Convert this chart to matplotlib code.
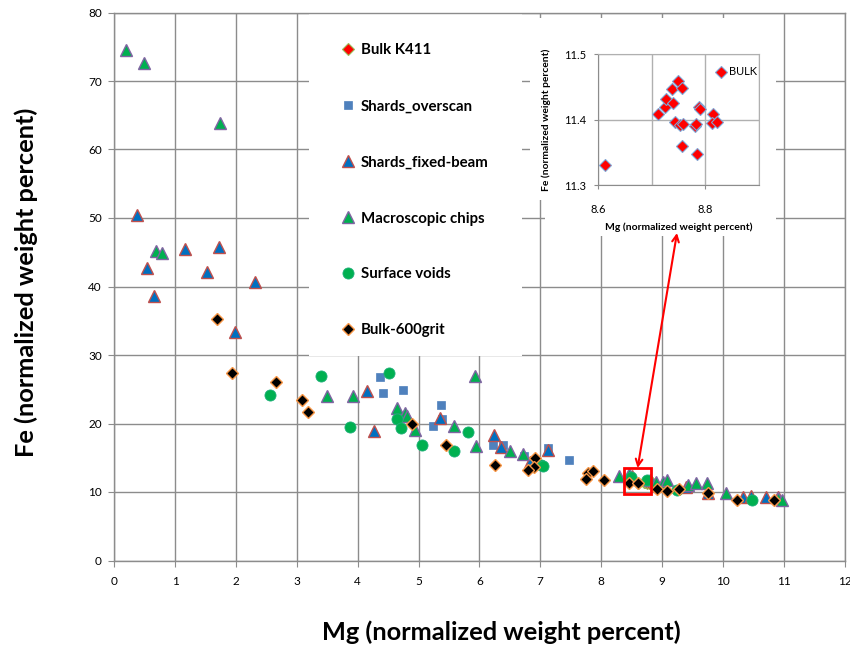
import matplotlib
matplotlib.use("Agg")
import matplotlib.pyplot as plt
from matplotlib.patches import Rectangle

plt.rcParams['font.family'] = ['Lato', 'DejaVu Sans']

# ---------------- data ----------------
mg_k411 = [8.613, 8.711, 8.725, 8.726, 8.737, 8.740, 8.749, 8.756, 8.743, 8.752,
           8.758, 8.756, 8.781, 8.782, 8.788, 8.789, 8.784, 8.814, 8.812, 8.822]
fe_k411 = [11.331, 11.408, 11.420, 11.431, 11.447, 11.425, 11.459, 11.448, 11.397, 11.392,
           11.393, 11.360, 11.390, 11.394, 11.420, 11.417, 11.348, 11.408, 11.395, 11.396]

mg_overscan = [4.36, 4.41, 4.74, 5.37, 5.39, 5.24, 6.23, 6.38, 6.73, 7.12, 7.47]
fe_overscan = [26.8, 24.4, 24.9, 22.7, 20.7, 19.6, 16.8, 16.8, 15.3, 16.4, 14.7]

mg_fixed = [0.37, 1.16, 1.72, 0.53, 1.52, 2.32, 0.66, 1.98, 4.16, 4.26, 5.35, 6.24,
            6.35, 6.83, 7.13, 8.50, 9.40, 9.75, 10.33, 10.46, 10.71, 10.90]
fe_fixed = [50.4, 45.5, 45.8, 42.7, 42.1, 40.7, 38.6, 33.4, 24.7, 18.9, 20.8, 18.3,
            16.6, 14.4, 16.1, 12.3, 10.8, 9.8, 9.3, 9.4, 9.2, 9.2]

mg_chips = [0.20, 0.48, 1.74, 0.68, 0.78, 3.49, 3.92, 4.65, 4.77, 4.81, 4.94, 5.58,
            5.92, 5.94, 6.51, 6.72, 8.30, 8.46, 8.80, 8.90, 9.01, 9.09, 9.42, 9.56,
            9.74, 10.06, 10.91, 10.97]
fe_chips = [74.5, 72.7, 63.9, 45.2, 44.9, 24.0, 24.0, 22.2, 21.5, 21.1, 19.1, 19.7,
            26.9, 16.7, 16.0, 15.5, 12.4, 12.6, 11.8, 11.5, 11.5, 11.8, 11.0, 11.3,
            11.3, 9.8, 9.1, 8.9]

mg_voids = [2.56, 3.40, 3.87, 4.51, 4.65, 4.71, 5.05, 5.58, 5.82, 7.01, 7.04, 8.49,
            8.75, 9.24, 10.48]
fe_voids = [24.2, 27.0, 19.5, 27.3, 20.6, 19.3, 16.8, 16.0, 18.7, 13.9, 13.8, 12.2,
            11.7, 10.3, 8.8]

mg_grit = [1.68, 1.93, 2.66, 3.09, 3.18, 4.90, 5.45, 6.26, 6.92, 6.89, 6.80, 7.79,
           7.87, 7.76, 8.04, 8.46, 8.61, 8.92, 9.09, 9.28, 9.76, 10.23, 10.84]
fe_grit = [35.2, 27.4, 26.1, 23.5, 21.7, 20.0, 16.9, 14.0, 15.0, 13.7, 13.2, 12.8,
           13.1, 11.9, 11.7, 11.3, 11.3, 10.4, 10.2, 10.5, 9.9, 8.9, 8.8]

series_labels = ["Bulk K411", "Shards_overscan", "Shards_fixed-beam",
                 "Macroscopic chips", "Surface voids", "Bulk-600grit"]
x_ticks = list(range(0, 13))
y_ticks = list(range(0, 81, 10))
inset_x_ticks = [8.6, 8.8]
inset_y_ticks = [11.3, 11.4, 11.5]

# ---------------- styles ----------------
W, H = 850, 647
GRID = '#8c8c8c'
styles = [
    dict(marker='D', ms=6.0, mfc='#ff0000', mec='#9bbb59', mew=0.8),
    dict(marker='s', ms=6.0, mfc='#4f81bd', mec='#4f81bd', mew=0.5),
    dict(marker='^', ms=8.8, mfc='#0070c0', mec='#c0504d', mew=1.0),
    dict(marker='^', ms=8.8, mfc='#00b050', mec='#8064a2', mew=1.0),
    dict(marker='o', ms=8.0, mfc='#00b050', mec='#20b07a', mew=0.6),
    dict(marker='D', ms=6.0, mfc='#000000', mec='#f79646', mew=1.0),
]
data = [(mg_k411, fe_k411), (mg_overscan, fe_overscan), (mg_fixed, fe_fixed),
        (mg_chips, fe_chips), (mg_voids, fe_voids), (mg_grit, fe_grit)]


def fx(px):
    return px / W


def fy(py):
    return 1 - py / H


fig = plt.figure(figsize=(W / 100, H / 100), dpi=100)
ax = fig.add_axes([fx(114.3), fy(560.5), (844.5 - 114.3) / W, (560.5 - 12.5) / H])

handles = []
for (xs, ys), st, lab in zip(data, styles, series_labels):
    h, = ax.plot(xs, ys, linestyle='none', label=lab, zorder=3, **st)
    handles.append(h)

ax.set_xlim(0, 12)
ax.set_ylim(0, 80)
ax.set_xticks(x_ticks)
ax.set_yticks(y_ticks)
ax.set_axisbelow(True)
ax.grid(True, color=GRID, linewidth=1.0)
for s in ax.spines.values():
    s.set_color(GRID)
    s.set_linewidth(1.0)
ax.tick_params(direction='out', length=4, color=GRID, labelsize=8.5)
ax.tick_params(axis='x', pad=7)
ax.tick_params(axis='y', pad=5)

fig.text(fx(501), fy(632), "Mg (normalized weight percent)", ha='center', va='center',
         fontsize=18.3, fontweight='bold')
fig.text(fx(26), fy(282), "Fe (normalized weight percent)", ha='center', va='center',
         fontsize=18.3, fontweight='bold', rotation=90)

# legend background and legend
ax.add_patch(Rectangle((fx(309), fy(356)), (522 - 309) / W, (356 - 14) / H,
                       transform=fig.transFigure, facecolor='white', edgecolor='none',
                       zorder=1.5, clip_on=False))
leg = ax.legend(handles=handles, loc='upper left',
                bbox_to_anchor=(fx(342.0), fy(43.5)), bbox_transform=fig.transFigure,
                frameon=False, prop=dict(weight='bold', size=10.8),
                handlelength=0.85, handletextpad=0.4, labelspacing=2.8,
                borderpad=0, borderaxespad=0)
leg.set_zorder(5)

# inset background
ax.add_patch(Rectangle((fx(530), fy(200)), (776 - 530) / W, (200 - 18) / H,
                       transform=fig.transFigure, facecolor='white', edgecolor='none',
                       zorder=4, clip_on=False))
ax.add_patch(Rectangle((fx(545), fy(236)), (776 - 545) / W, (236 - 199) / H,
                       transform=fig.transFigure, facecolor='white', edgecolor='none',
                       zorder=4, clip_on=False))

# highlight box and arrow
ax.add_patch(Rectangle((8.38, 9.72), 0.44, 3.73, facecolor='none', edgecolor='#ff0000',
                       linewidth=2.0, zorder=6))
ax.annotate("", xy=(8.60, 13.5), xycoords='data',
            xytext=(fx(677), fy(233)), textcoords='figure fraction',
            arrowprops=dict(arrowstyle='<->', color='#ff0000', lw=1.5,
                            mutation_scale=12, shrinkA=0, shrinkB=0), zorder=7)

# ---------------- inset ----------------
axi = fig.add_axes([fx(598.3), fy(185), (759 - 598.3) / W, (185 - 54.3) / H])
axi.set_zorder(5)
axi.plot(mg_k411, fe_k411, linestyle='none', marker='D', ms=6.0, mfc='#ff0000',
         mec='#7fa6d6', mew=0.8, label='BULK', zorder=3)
axi.set_xlim(8.6, 8.9)
axi.set_ylim(11.3, 11.5)
axi.set_xticks(inset_x_ticks)
axi.set_yticks(inset_y_ticks)
axi.set_xticks([8.7, 8.9], minor=True)
axi.set_axisbelow(True)
axi.grid(True, which='both', color='#b0b0b0', linewidth=1.0)
axi.tick_params(which='minor', length=0)
axi.tick_params(which='major', direction='out', length=3, color=GRID, labelsize=8)
axi.tick_params(axis='x', pad=11)
axi.tick_params(axis='y', pad=6)
for s in axi.spines.values():
    s.set_color('#b0b0b0')
axi.spines['left'].set_color(GRID)
axi.spines['bottom'].set_color(GRID)
axi.set_xlabel("Mg (normalized weight percent)", fontsize=7.5, fontweight='bold', labelpad=5)
axi.set_ylabel("Fe (normalized weight percent)", fontsize=7.4, fontweight='bold', labelpad=9)
axi.legend(loc='center left', bbox_to_anchor=(0.735, 0.865), frameon=False,
           fontsize=8, handlelength=0.8, handletextpad=0.3, borderpad=0, borderaxespad=0)

fig.savefig("out.png", dpi=100)
